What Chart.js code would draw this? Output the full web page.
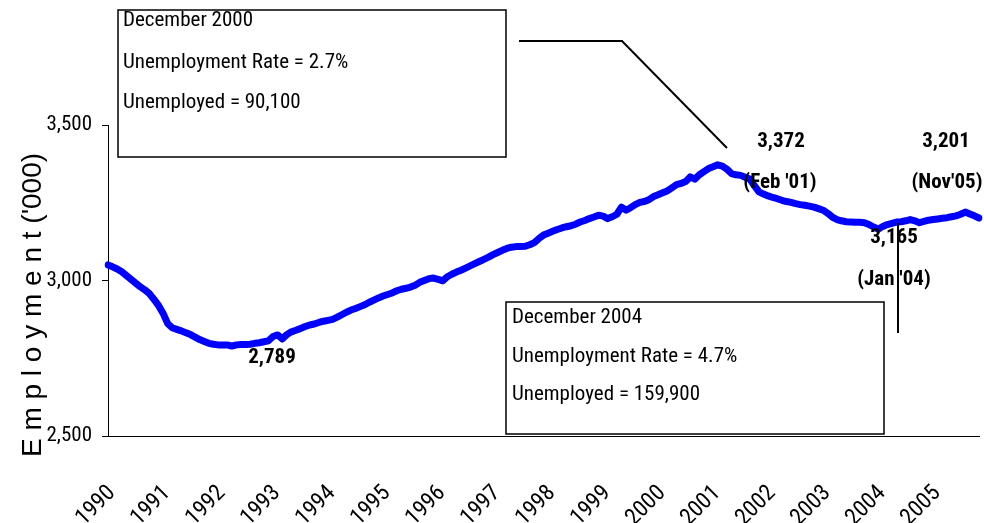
<!DOCTYPE html>
<html>
<head>
<meta charset="utf-8">
<script src="https://cdn.jsdelivr.net/npm/chart.js@4.4.0/dist/chart.umd.min.js"></script>
<style>
html,body{margin:0;padding:0;background:#fff;}
canvas{display:block;}
</style>
</head>
<body>
<canvas id="c" width="984" height="523"></canvas>
<script>
// ---- data ----
const years = [1990,1991,1992,1993,1994,1995,1996,1997,1998,1999,2000,2001,2002,2003,2004,2005];
const monthNames = ['Jan','Feb','Mar','Apr','May','Jun','Jul','Aug','Sep','Oct','Nov','Dec'];
const monthsInLastYear = 11; // series ends Nov 2005
const employment = [
  3050,3044,3037,3028,3016,3004,2992,2980,2970,2958,2940,2920, // 1990
  2895,2862,2848,2843,2838,2832,2826,2818,2810,2804,2798,2795, // 1991
  2793,2793,2793,2789,2793,2794,2794,2795,2798,2800,2803,2806, // 1992
  2820,2825,2812,2826,2835,2840,2846,2852,2857,2860,2865,2869, // 1993
  2872,2875,2882,2890,2898,2905,2910,2916,2922,2930,2937,2944, // 1994
  2950,2955,2960,2967,2972,2975,2979,2985,2994,3000,3006,3008, // 1995
  3004,2999,3012,3020,3027,3033,3040,3047,3054,3061,3068,3075, // 1996
  3083,3090,3097,3103,3107,3109,3109,3110,3115,3122,3135,3146, // 1997
  3152,3158,3164,3169,3173,3176,3181,3188,3193,3199,3204,3210, // 1998
  3207,3199,3205,3213,3236,3226,3234,3244,3251,3254,3260,3270, // 1999
  3276,3282,3288,3298,3308,3312,3318,3333,3326,3340,3350,3360, // 2000
  3366,3372,3368,3358,3344,3340,3338,3332,3326,3305,3285,3278, // 2001
  3272,3267,3263,3258,3254,3251,3247,3244,3242,3239,3236,3231, // 2002
  3226,3216,3204,3196,3192,3189,3188,3187,3187,3186,3180,3172, // 2003
  3165,3174,3180,3184,3188,3189,3192,3196,3192,3186,3190,3194, // 2004
  3196,3198,3200,3202,3205,3208,3213,3220,3214,3208,3201       // 2005
];
const yTicks = [2500, 3000, 3500];
const yTitle = "E m p l o y m e n t ('000)";
const box2000 = ['December 2000', 'Unemployment Rate = 2.7%', 'Unemployed = 90,100'];
const box2004 = ['December 2004', 'Unemployment Rate = 4.7%', 'Unemployed = 159,900'];
const pointLabels = ['2,789', '3,372', "(Feb '01)", '3,165', "(Jan '04)", '3,201', "(Nov'05)"];

// ---- build categories ----
const months = [];
years.forEach((y, yi) => {
  const n = (yi === years.length - 1) ? monthsInLastYear : 12;
  for (let m = 0; m < n; m++) months.push(monthNames[m] + ' ' + y);
});

const NARROW = '"Roboto Condensed", "Liberation Sans Narrow", "Arial Narrow", Roboto, sans-serif';
const REGULAR = '"Liberation Sans", Arial, sans-serif';

const annot = {
  id: 'annot',
  afterDraw(chart) {
    const ctx = chart.ctx;
    ctx.save();
    ctx.strokeStyle = '#000';
    ctx.fillStyle = '#000';
    // y axis title
    ctx.save();
    ctx.translate(33, 305);
    ctx.rotate(-Math.PI / 2);
    ctx.font = '28px ' + REGULAR;
    ctx.textAlign = 'center';
    ctx.textBaseline = 'middle';
    ctx.fillText(yTitle, 0, 0);
    ctx.restore();
    // boxes
    ctx.lineWidth = 1.5;
    ctx.strokeRect(118, 10, 388, 147);
    ctx.strokeRect(506, 302, 378, 132);
    ctx.font = '21px ' + NARROW;
    ctx.textAlign = 'left';
    ctx.textBaseline = 'middle';
    [21, 63, 103].forEach((y, i) => ctx.fillText(box2000[i], 123, y));
    [318, 357, 395].forEach((y, i) => ctx.fillText(box2004[i], 512, y));
    // leader lines
    ctx.lineWidth = 2;
    ctx.beginPath();
    ctx.moveTo(519, 41); ctx.lineTo(622, 41); ctx.lineTo(727, 148);
    ctx.stroke();
    ctx.beginPath();
    ctx.moveTo(898, 223); ctx.lineTo(898, 333);
    ctx.stroke();
    // point labels
    ctx.font = 'bold 21px ' + NARROW;
    ctx.textAlign = 'center';
    const pos = [[272,358],[781,142],[780,183],[894,238],[894,280],[946,142],[947,183]];
    pointLabels.forEach((t, i) => ctx.fillText(t, pos[i][0], pos[i][1]));
    ctx.restore();
  }
};

new Chart(document.getElementById('c'), {
  type: 'line',
  data: {
    labels: months,
    datasets: [{
      data: employment,
      borderColor: '#0000FF',
      borderWidth: 7,
      pointRadius: 0,
      tension: 0,
      borderJoinStyle: 'round',
      borderCapStyle: 'round',
      fill: false
    }]
  },
  options: {
    responsive: false,
    devicePixelRatio: 1,
    animation: false,
    layout: { padding: { top: 125, right: 5, left: 0, bottom: 0 } },
    plugins: { legend: { display: false }, tooltip: { enabled: false } },
    scales: {
      x: {
        type: 'category',
        offset: false,
        grid: { display: false, drawTicks: false },
        border: { display: true, color: '#000', width: 1 },
        ticks: {
          autoSkip: false,
          minRotation: 45,
          maxRotation: 45,
          padding: 44,
          labelOffset: 4,
          color: '#000',
          font: { family: NARROW, size: 23 },
          callback: function(v, i) { return (i % 12 === 0) ? String(years[i / 12]) : null; }
        },
        afterFit(s) { s.height = 87; s.paddingLeft = 0; s.paddingRight = 0; }
      },
      y: {
        min: 2500,
        max: 3500,
        afterBuildTicks(s) { s.ticks = yTicks.map(v => ({ value: v })); },
        grid: { drawOnChartArea: false, drawTicks: true, tickLength: 6, color: '#000' },
        border: { display: true, color: '#000', width: 1 },
        ticks: {
          padding: 10,
          color: '#000',
          font: { family: NARROW, size: 21 },
          callback: v => v.toLocaleString('en-US')
        },
        title: { display: false },
        afterFit(s) { s.width = 108; }
      }
    }
  },
  plugins: [annot]
});
</script>
</body>
</html>
